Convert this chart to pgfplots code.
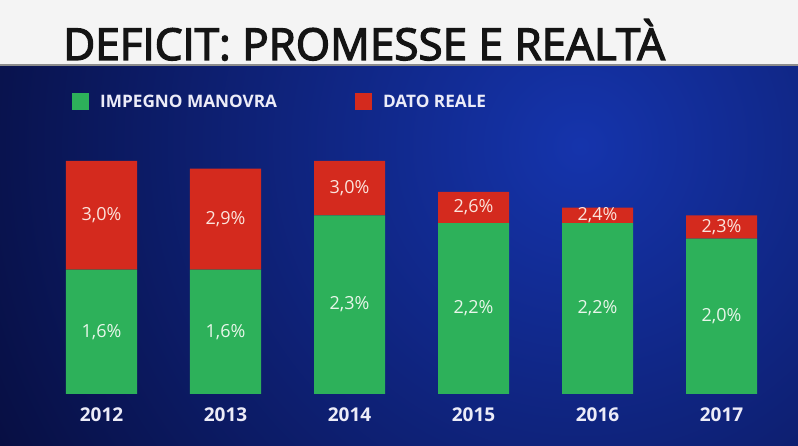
\documentclass[border=0pt]{standalone}
\usepackage{fontspec}
\setmainfont{Open Sans}
\newfontfamily\titlefont[FakeBold=3]{Open Sans}
\usepackage{pgfplots}
\usepackage{pgfplotstable}
\pgfplotsset{compat=1.18}
\definecolor{navy}{HTML}{060B38}
\definecolor{midblue}{HTML}{1534AC}
\definecolor{bargreen}{HTML}{2DB15A}
\definecolor{barred}{HTML}{D42A1E}
\definecolor{band}{HTML}{F4F4F4}
\definecolor{glab}{HTML}{E8F6EA}
\definecolor{rlab}{HTML}{FBE4DC}
\definecolor{legtext}{HTML}{ECECF8}

\pgfplotstableread{
x promised diff real midg midr labg labr
0 1.6 1.4 3.0 0.80 2.30 1,6 3,0
1 1.6 1.3 2.9 0.80 2.25 1,6 2,9
2 2.3 0.7 3.0 1.15 2.65 2,3 3,0
3 2.2 0.4 2.6 1.10 2.40 2,2 2,6
4 2.2 0.2 2.4 1.10 2.30 2,2 2,4
5 2.0 0.3 2.3 1.00 2.15 2,0 2,3
}\data

\begin{document}
\begin{tikzpicture}
\useasboundingbox (0,0) rectangle (798pt,446pt);
% background
\fill[band] (0,381pt) rectangle (798pt,446pt);
\begin{scope}
\clip (0,0) rectangle (798pt,381pt);
\fill[navy] (0,0) rectangle (798pt,381pt);
\shade[inner color=midblue, outer color=navy] (580pt,300pt) circle (720pt);
\end{scope}
\fill[black!45] (0,380pt) rectangle (798pt,381.5pt);
% title
\node[anchor=base west, inner sep=0pt, text=black!92,
      font=\titlefont\fontsize{44}{44}\selectfont] at (63pt,386pt) {DEFICIT: PROMESSE E REALTÀ};

\begin{axis}[
  at={(2.3pt,52pt)}, anchor=south west,
  scale only axis, width=793.6pt, height=310.8pt,
  xmin=-0.8, xmax=5.6, ymin=0, ymax=4,
  ybar stacked, bar width=71pt,
  axis line style={draw=none},
  ytick=\empty, xtick=data,
  xticklabels={2012,2013,2014,2015,2016,2017},
  major tick length=0pt,
  xticklabel style={font=\bfseries\fontsize{19}{19}\selectfont, text=legtext, anchor=center, yshift=-21pt},
  legend image code/.code={\fill[#1] (0pt,-8.5pt) rectangle (17pt,8.5pt);},
  legend columns=2,
  legend style={draw=none, fill=none, text=legtext, inner sep=0pt,
    font=\bfseries\fontsize{17.2}{17.2}\selectfont,
    at={(axis description cs:0.0878,0.941)}, anchor=west,
    /tikz/every odd column/.append style={column sep=9pt},
    /tikz/every even column/.append style={column sep=76pt}},
]
\addplot[fill=bargreen, draw=none] table[x=x,y=promised]{\data};
\addplot[fill=barred, draw=none] table[x=x,y=diff]{\data};
\legend{IMPEGNO MANOVRA, DATO REALE}
\end{axis}

\begin{axis}[
  at={(2.3pt,52pt)}, anchor=south west,
  scale only axis, width=793.6pt, height=310.8pt,
  xmin=-0.8, xmax=5.6, ymin=0, ymax=4,
  hide axis, clip=false,
]
\addplot[draw=none, mark=none, nodes near coords={\pgfplotspointmeta\%},
  point meta=explicit symbolic,
  every node near coord/.append style={anchor=center, text=glab, font=\fontsize{18}{18}\selectfont}]
  table[x=x,y=midg,meta=labg]{\data};
\addplot[draw=none, mark=none, nodes near coords={\pgfplotspointmeta\%},
  point meta=explicit symbolic,
  every node near coord/.append style={anchor=center, text=rlab, font=\fontsize{18}{18}\selectfont}]
  table[x=x,y=midr,meta=labr]{\data};
\end{axis}
\end{tikzpicture}
\end{document}
